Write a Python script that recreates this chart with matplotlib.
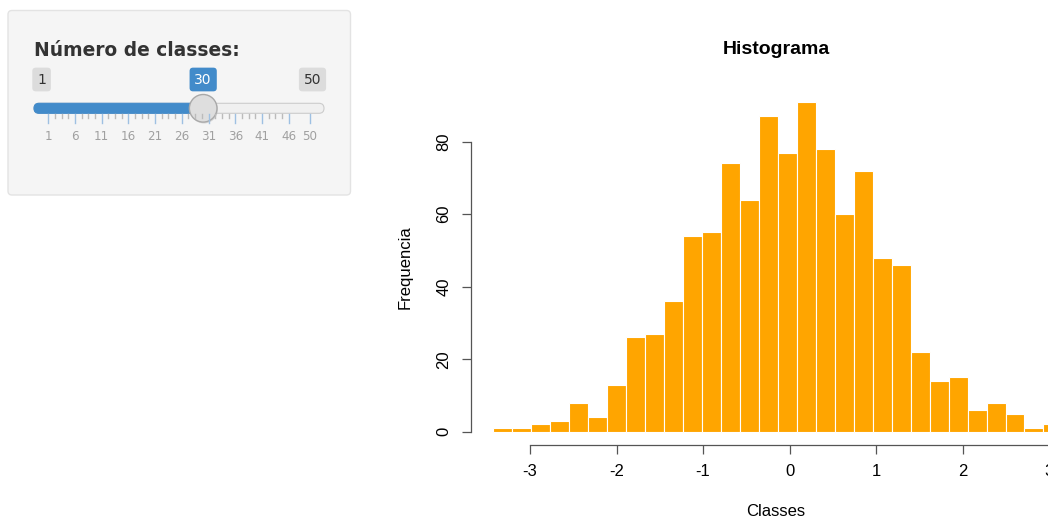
import matplotlib
matplotlib.use("Agg")
import matplotlib.pyplot as plt
import numpy as np
from matplotlib.patches import FancyBboxPatch, Circle

# histogram data (30 classes)
counts = [1, 1, 2, 3, 8, 4, 13, 26, 27, 36, 54, 55, 74, 64, 87,
          77, 91, 78, 60, 72, 48, 46, 22, 14, 15, 6, 8, 5, 1, 2]
x_min = -3.424
x_max = 3.155
x_ticks = [-3, -2, -1, 0, 1, 2, 3]
y_ticks = [0, 20, 40, 60, 80]

# slider
slider_min = 1
slider_max = 50
slider_value = 30
grid_labels = [1, 6, 11, 16, 21, 26, 31, 36, 41, 46, 50]

edges = np.linspace(x_min, x_max, len(counts) + 1)
bw = edges[1] - edges[0]

W, H = 1048, 518
fig = plt.figure(figsize=(W / 100, H / 100), dpi=100)

# ---- histogram (R base graphics look) ----
rfont = "Liberation Sans"
left, right, bottom, top = 470.6, 1085.2, 444.9, 88.6
ax = fig.add_axes([left / W, (H - bottom) / H, (right - left) / W, (bottom - top) / H])
ax.bar(edges[:-1], counts, width=bw, align="edge", color="orange",
       edgecolor="white", linewidth=0.8)
pad_x = 0.04 * (x_max - x_min)
ax.set_xlim(x_min - pad_x, x_max + pad_x)
ax.set_ylim(-0.04 * max(counts), 1.04 * max(counts))
ax.patch.set_alpha(0)
for s in ["top", "right"]:
    ax.spines[s].set_visible(False)
ax.spines["left"].set_bounds(0, 80)
ax.spines["bottom"].set_bounds(-3, 3)
for s in ["left", "bottom"]:
    ax.spines[s].set_color("#555555")
    ax.spines[s].set_linewidth(0.9)
ax.set_xticks(x_ticks)
ax.set_yticks(y_ticks)
ax.set_xticklabels([str(t) for t in x_ticks], family=rfont, fontsize=12)
ax.set_yticklabels([str(t) for t in y_ticks], family=rfont, fontsize=12,
                   rotation=90, va="center")
ax.tick_params(axis="both", length=6.7, width=0.9, color="#555555", pad=7)

fig.text(776 / W, (H - 49) / H, "Histograma", family=rfont, fontsize=14,
         fontweight="bold", ha="center", va="center")
fig.text(776 / W, (H - 511.7) / H, "Classes", family=rfont, fontsize=12,
         ha="center", va="center")
fig.text(405 / W, (H - 266.7) / H, "Frequencia", family=rfont, fontsize=12,
         rotation=90, ha="center", va="center")

# ---- slider panel (pixel coordinates) ----
ui = fig.add_axes([0, 0, 1, 1])
ui.set_xlim(0, W)
ui.set_ylim(H, 0)
ui.axis("off")
ui.patch.set_alpha(0)

ui.add_patch(FancyBboxPatch((8, 10.5), 342.5, 184.5,
                            boxstyle="round,pad=0,rounding_size=4",
                            fc="#f5f5f5", ec="#e3e3e3", lw=1))
ui.text(34, 50, "Número de classes:", family="DejaVu Sans", fontsize=13.4,
        fontweight="bold", color="#333333", ha="left", va="center")


def px(v):
    return 48.3 + (v - slider_min) * (310 - 48.3) / (slider_max - slider_min)


ty = 108.3
# track
ui.add_patch(FancyBboxPatch((34, ty - 5), 290, 10,
                            boxstyle="round,pad=0,rounding_size=5",
                            fc="#f0f0f0", ec="#cccccc", lw=0.8))
ui.add_patch(FancyBboxPatch((34, ty - 5), px(slider_value) - 34, 10,
                            boxstyle="round,pad=0,rounding_size=5",
                            fc="#428bca", ec="#428bca", lw=0.8))

# grid ticks
for i, g in enumerate(grid_labels):
    ui.plot([px(g), px(g)], [113.5, 123], color="#9ec0e2", lw=1)
    ui.text(px(g), 136, str(g), family="DejaVu Sans", fontsize=8.6,
            color="#a0a0a0", ha="center", va="center")
    if i < len(grid_labels) - 2:
        step = (grid_labels[i + 1] - g) / 4
        for k in range(1, 4):
            xv = px(g + k * step)
            ui.plot([xv, xv], [113.5, 118], color="#bbbbbb", lw=1)

# handle
ui.add_patch(Circle((px(slider_value) + 0.8, ty + 1.2), 14, fc="#bbbbbb",
                    ec="none", alpha=0.5))
ui.add_patch(Circle((px(slider_value), ty), 13.8, fc="#dedede",
                    ec="#a9a9a9", lw=1))

# badges
badge = dict(boxstyle="round,pad=0.35,rounding_size=0.25", ec="none")
ui.text(41.6, 79.5, str(slider_min), family="DejaVu Sans", fontsize=10,
        color="#333333", ha="center", va="center", bbox=dict(badge, fc="#dcdcdc"))
ui.text(312.5, 79.5, str(slider_max), family="DejaVu Sans", fontsize=10,
        color="#333333", ha="center", va="center", bbox=dict(badge, fc="#dcdcdc"))
ui.text(px(slider_value), 79.5, str(slider_value), family="DejaVu Sans",
        fontsize=10, color="white", ha="center", va="center",
        bbox=dict(badge, fc="#428bca"))

fig.savefig("out.png", dpi=100)
